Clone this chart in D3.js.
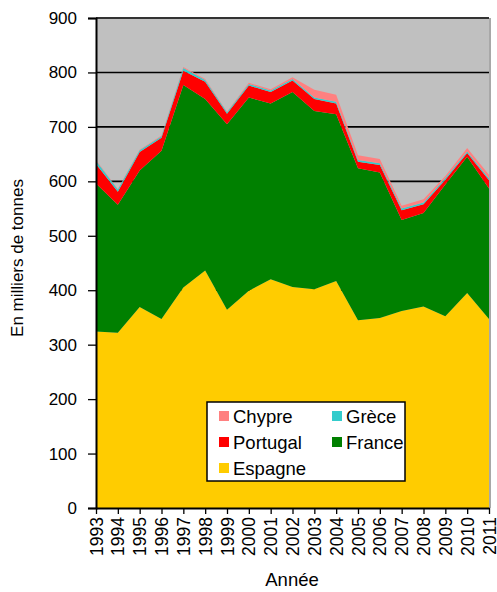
<!DOCTYPE html>
<html>
<head>
<meta charset="utf-8">
<script src="https://cdn.jsdelivr.net/npm/d3@7"></script>
<style>
  body { margin: 0; background: #fff; }
  text { font-family: "Liberation Sans", Arial, sans-serif; fill: #000; }
</style>
</head>
<body>
<div id="chart"></div>
<script>
// data, thousands of tonnes
const years = [1993,1994,1995,1996,1997,1998,1999,2000,2001,2002,2003,2004,2005,2006,2007,2008,2009,2010,2011];
const espagne  = [324,322,369,347,405,436,364,399,420,406,402,417,345,349,362,370,352,395,347];
const france   = [272,235,251,309,372,315,341,355,323,358,327,306,279,267,167,172,242,250,240];
const portugal = [36,24,34,24,26,32,19,22,21,21,22,20,12,14,18,16,9,7,15];
const grece    = [6,4,3,3,5,3,3,3,3,3,3,3,3,3,3,3,3,3,3];
const chypre   = [1,1,1,1,2,2,1,2,2,3,14,13,9,8,5,6,4,6,7];

const seriesNames = ["Espagne","France","Portugal","Grèce","Chypre"];
const seriesValues = [espagne, france, portugal, grece, chypre];
const colors = ["#FFCC00","#008000","#FF0000","#33CCCC","#FF8080"];
const yTicks = [0,100,200,300,400,500,600,700,800,900];

const W = 497, H = 592;
const m = {left: 96, right: 8, top: 18, bottom: 84};

const rows = years.map((y, i) => {
  const r = {year: y};
  seriesNames.forEach((n, k) => r[n] = seriesValues[k][i]);
  return r;
});

const svg = d3.select("#chart").append("svg")
  .attr("width", W)
  .attr("height", H);

const x = d3.scaleLinear()
  .domain(d3.extent(years))
  .range([m.left, W - m.right]);
const y = d3.scaleLinear()
  .domain([0, 900])
  .range([H - m.bottom, m.top]);

// plot background
svg.append("rect")
  .attr("x", m.left)
  .attr("y", m.top)
  .attr("width", x.range()[1] - m.left)
  .attr("height", y(0) - m.top)
  .attr("fill", "#C0C0C0");

// gridlines
svg.append("g")
  .selectAll("line")
  .data(yTicks.filter(d => d > 0))
  .enter()
  .append("line")
  .attr("x1", m.left)
  .attr("x2", x.range()[1])
  .attr("y1", d => y(d))
  .attr("y2", d => y(d))
  .attr("stroke", d => d === 900 ? "#333" : "#000")
  .attr("stroke-width", d => d === 900 ? 2 : 1.6);

// stacked areas
const stack = d3.stack().keys(seriesNames)(rows);
const area = d3.area()
  .x(d => x(d.data.year))
  .y0(d => y(d[0]))
  .y1(d => y(d[1]));

svg.append("g")
  .selectAll("path")
  .data(stack)
  .enter()
  .append("path")
  .attr("d", area)
  .attr("fill", (d, i) => colors[i]);

// right border of plot
svg.append("line")
  .attr("x1", x.range()[1] + 1).attr("x2", x.range()[1] + 1)
  .attr("y1", m.top).attr("y2", y(0))
  .attr("stroke", "#A8A8A8")
  .attr("stroke-width", 2);

// y axis
const yAxis = svg.append("g")
  .attr("transform", "translate(" + m.left + ",0)")
  .call(d3.axisLeft(y).tickValues(yTicks).tickSize(8).tickPadding(11));
yAxis.select(".domain").attr("stroke", "#000").attr("stroke-width", 2);
yAxis.selectAll(".tick line").attr("stroke", "#000").attr("stroke-width", 1.3);
yAxis.selectAll("text")
  .attr("font-size", 17)
  .attr("font-family", "Liberation Sans, Arial, sans-serif");

// x axis
const xAxis = svg.append("g")
  .attr("transform", "translate(0," + y(0) + ")")
  .call(d3.axisBottom(x).tickValues(years).tickFormat(d3.format("d")).tickSize(6).tickSizeOuter(0));
xAxis.select(".domain").attr("stroke", "#000").attr("stroke-width", 2);
xAxis.selectAll(".tick line").attr("stroke", "#000").attr("stroke-width", 1.3);
xAxis.selectAll("text")
  .attr("font-size", 17.5)
  .attr("font-family", "Liberation Sans, Arial, sans-serif")
  .attr("transform", "rotate(-90)")
  .attr("text-anchor", "end")
  .attr("x", -9)
  .attr("y", 0)
  .attr("dy", "0.35em");

// axis titles
svg.append("text")
  .text("En milliers de tonnes")
  .attr("transform", "translate(23,258) rotate(-90)")
  .attr("text-anchor", "middle")
  .attr("font-size", 17);
svg.append("text")
  .text("Année")
  .attr("x", 292)
  .attr("y", 586)
  .attr("text-anchor", "middle")
  .attr("font-size", 18.5);

// legend
const legend = svg.append("g").attr("transform", "translate(207,402)");
legend.append("rect")
  .attr("width", 198)
  .attr("height", 79)
  .attr("fill", "#fff")
  .attr("stroke", "#000")
  .attr("stroke-width", 1.5);
const legendItems = [
  {name: "Chypre", c: 4, col: 0, row: 0},
  {name: "Grèce", c: 3, col: 1, row: 0},
  {name: "Portugal", c: 2, col: 0, row: 1},
  {name: "France", c: 1, col: 1, row: 1},
  {name: "Espagne", c: 0, col: 0, row: 2}
];
const li = legend.selectAll("g.item")
  .data(legendItems)
  .enter()
  .append("g")
  .attr("transform", d => "translate(" + (12 + d.col * 113) + "," + (9 + d.row * 26) + ")");
li.append("rect")
  .attr("width", 10)
  .attr("height", 10)
  .attr("fill", d => colors[d.c]);
li.append("text")
  .text(d => d.name)
  .attr("x", 14)
  .attr("y", 11.5)
  .attr("font-size", 18.5);
</script>
</body>
</html>
